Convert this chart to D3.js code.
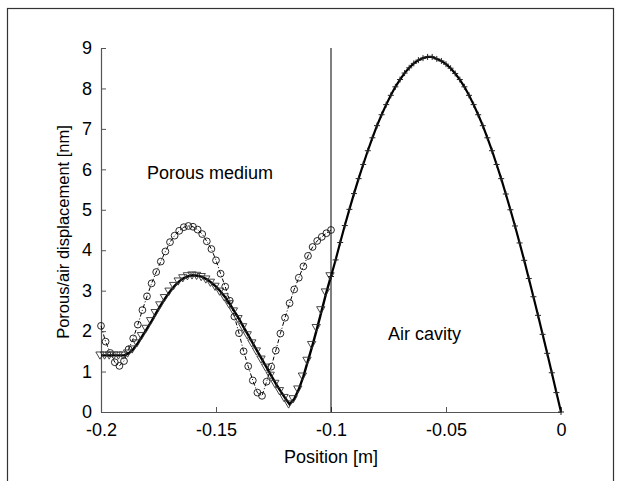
<!DOCTYPE html>
<html>
<head>
<meta charset="utf-8">
<script src="https://cdn.jsdelivr.net/npm/d3@7"></script>
<style>
    html, body { margin: 0; padding: 0; background: #fff; }
    svg text { font-family: "Liberation Sans", Arial, sans-serif; fill: #000; }
</style>
</head>
<body>
<svg id="chart" width="621" height="481"></svg>
<script>
// Positions in the porous layer and in the air cavity [m]
const porousX = [-0.200, -0.198, -0.196, -0.194, -0.192, -0.190, -0.188, -0.186, -0.184, -0.182,
    -0.180, -0.178, -0.176, -0.174, -0.172, -0.170, -0.168, -0.166, -0.164, -0.162,
    -0.160, -0.158, -0.156, -0.154, -0.152, -0.150, -0.148, -0.146, -0.144, -0.142,
    -0.140, -0.138, -0.136, -0.134, -0.132, -0.130, -0.128, -0.126, -0.124, -0.122,
    -0.120, -0.118, -0.116, -0.114, -0.112, -0.110, -0.108, -0.106, -0.104, -0.102, -0.100];
const airX = [-0.100, -0.098, -0.096, -0.094, -0.092, -0.090, -0.088, -0.086, -0.084, -0.082,
    -0.080, -0.078, -0.076, -0.074, -0.072, -0.070, -0.068, -0.066, -0.064, -0.062,
    -0.060, -0.058, -0.056, -0.054, -0.052, -0.050, -0.048, -0.046, -0.044, -0.042,
    -0.040, -0.038, -0.036, -0.034, -0.032, -0.030, -0.028, -0.026, -0.024, -0.022,
    -0.020, -0.018, -0.016, -0.014, -0.012, -0.010, -0.008, -0.006, -0.004, -0.002, 0.000];

// Displacements [nm]
const fluidCircles = [2.13, 1.74, 1.46, 1.23, 1.14, 1.26, 1.55, 1.82, 2.16, 2.52,
    2.86, 3.18, 3.46, 3.72, 3.97, 4.20, 4.36, 4.48, 4.57, 4.60,
    4.58, 4.51, 4.40, 4.22, 4.03, 3.75, 3.42, 3.10, 2.75, 2.36,
    1.95, 1.50, 1.13, 0.78, 0.48, 0.40, 0.75, 1.12, 1.52, 1.94,
    2.33, 2.69, 3.03, 3.32, 3.60, 3.86, 4.08, 4.23, 4.33, 4.42, 4.50];
const solidTriangles = [1.40, 1.40, 1.40, 1.40, 1.40, 1.40, 1.45, 1.55, 1.70, 1.88,
    2.06, 2.25, 2.45, 2.64, 2.82, 2.98, 3.12, 3.23, 3.31, 3.36,
    3.38, 3.37, 3.34, 3.28, 3.20, 3.10, 2.98, 2.84, 2.67, 2.49,
    2.30, 2.10, 1.90, 1.70, 1.50, 1.30, 1.10, 0.90, 0.70, 0.52,
    0.35, 0.19, 0.32, 0.56, 0.88, 1.27, 1.66, 2.08, 2.52, 2.96, 3.36];
const airPlus = [3.35, 3.76, 4.19, 4.61, 5.01, 5.40, 5.77, 6.12, 6.46, 6.78,
    7.08, 7.35, 7.60, 7.83, 8.04, 8.22, 8.38, 8.51, 8.62, 8.70,
    8.75, 8.78, 8.78, 8.73, 8.68, 8.60, 8.50, 8.37, 8.22, 8.04,
    7.83, 7.60, 7.35, 7.08, 6.78, 6.46, 6.12, 5.77, 5.39, 5.00,
    4.60, 4.18, 3.75, 3.30, 2.85, 2.39, 1.92, 1.45, 0.97, 0.48, 0.00];

const xTicks = [-0.2, -0.15, -0.1, -0.05, 0];
const xTickLabels = ['-0.2', '-0.15', '-0.1', '-0.05', '0'];
const yTicks = [0, 1, 2, 3, 4, 5, 6, 7, 8, 9];
const interfaceX = -0.1;

const svg = d3.select('#chart');

// outer figure frame
svg.append('rect')
    .attr('x', 7.5).attr('y', 8.5)
    .attr('width', 606).attr('height', 480)
    .attr('fill', 'none')
    .attr('stroke', '#333')
    .attr('stroke-width', 1.2);

const x = d3.scaleLinear().domain([-0.2, 0]).range([101, 561]);
const y = d3.scaleLinear().domain([0, 9]).range([412, 48]);

// axes: ticks point inward
const xAxis = svg.append('g')
    .attr('transform', `translate(0,${y(0)})`)
    .call(d3.axisBottom(x).tickValues(xTicks)
        .tickFormat((d, i) => xTickLabels[i])
        .tickSizeInner(-5).tickSizeOuter(0).tickPadding(11));
const yAxis = svg.append('g')
    .attr('transform', `translate(${x(-0.2)},0)`)
    .call(d3.axisLeft(y).tickValues(yTicks)
        .tickSizeInner(-5).tickSizeOuter(0).tickPadding(9));

for (const g of [xAxis, yAxis]) {
    g.select('.domain').attr('stroke', '#555').attr('stroke-width', 1.2);
    g.selectAll('.tick line').attr('stroke', '#555');
    g.selectAll('.tick text')
        .attr('font-size', 18)
        .attr('font-family', '"Liberation Sans", Arial, sans-serif')
        .attr('fill', '#000');
}
xAxis.selectAll('.tick text').attr('dy', '0.71em');

// interface between porous layer and air cavity
svg.append('line')
    .attr('x1', x(interfaceX)).attr('x2', x(interfaceX))
    .attr('y1', y(0)).attr('y2', y(9))
    .attr('stroke', '#000')
    .attr('stroke-width', 1);

const lineP = d3.line()
    .x((d, i) => x(porousX[i]))
    .y(d => y(d));
const lineA = d3.line()
    .x((d, i) => x(airX[i]))
    .y(d => y(d));

// fluid displacement: dash-dot with open circles
svg.append('path')
    .datum(fluidCircles)
    .attr('d', lineP)
    .attr('fill', 'none')
    .attr('stroke', '#000')
    .attr('stroke-width', 1)
    .attr('stroke-dasharray', '4,2,1,2');

svg.append('g').selectAll('circle')
    .data(fluidCircles)
    .join('circle')
    .attr('cx', (d, i) => x(porousX[i]))
    .attr('cy', d => y(d))
    .attr('r', 3.4)
    .attr('fill', 'none')
    .attr('stroke', '#111')
    .attr('stroke-width', 0.9);

// solid displacement: thick line + triangles
svg.append('path')
    .datum(solidTriangles)
    .attr('d', lineP)
    .attr('fill', 'none')
    .attr('stroke', '#000')
    .attr('stroke-width', 2.4);

const tri = d3.symbol().type(d3.symbolTriangle).size(30);
svg.append('g').selectAll('path')
    .data(solidTriangles)
    .join('path')
    .attr('d', tri)
    .attr('transform', (d, i) => `translate(${x(porousX[i]) - 1},${y(d) - 1}) rotate(180)`)
    .attr('fill', 'none')
    .attr('stroke', '#333')
    .attr('stroke-width', 0.9);

// air cavity: thick line + plus markers
svg.append('path')
    .datum(airPlus)
    .attr('d', lineA)
    .attr('fill', 'none')
    .attr('stroke', '#000')
    .attr('stroke-width', 2.2);

svg.append('g').selectAll('path')
    .data(airPlus)
    .join('path')
    .attr('d', 'M-3,0H3M0,-3V3')
    .attr('transform', (d, i) => `translate(${x(airX[i])},${y(d)})`)
    .attr('stroke', '#222')
    .attr('stroke-width', 1);

// labels
svg.append('text')
    .attr('x', 147).attr('y', 179)
    .attr('font-size', 18)
    .text('Porous medium');
svg.append('text')
    .attr('x', 388).attr('y', 340)
    .attr('font-size', 18)
    .text('Air cavity');
svg.append('text')
    .attr('x', x(-0.1)).attr('y', 463)
    .attr('text-anchor', 'middle')
    .attr('font-size', 18)
    .text('Position [m]');
svg.append('text')
    .attr('transform', `translate(69,232) rotate(-90)`)
    .attr('text-anchor', 'middle')
    .attr('font-size', 16.5)
    .text('Porous/air displacement [nm]');
</script>
</body>
</html>
